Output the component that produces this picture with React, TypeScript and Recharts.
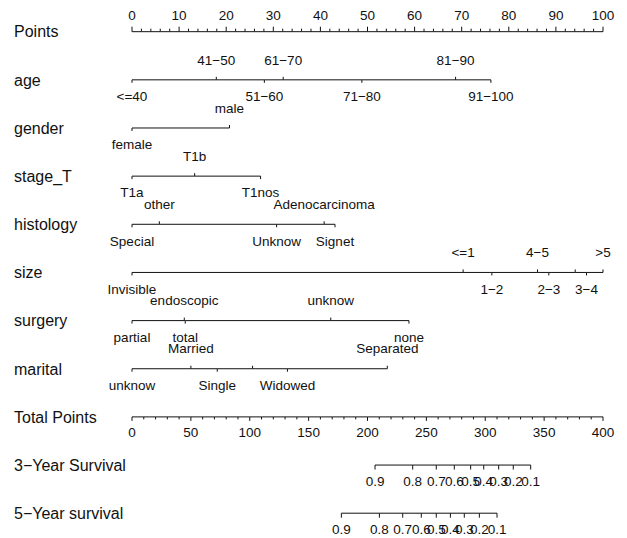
import React from "react";
import { ComposedChart, Scatter, XAxis, YAxis } from "recharts";

// row names, top to bottom
const rowLabels = [
  "Points",
  "age",
  "gender",
  "stage_T",
  "histology",
  "size",
  "surgery",
  "marital",
  "Total Points",
  "3\u2212Year Survival",
  "5\u2212Year survival",
];

// axis ticks
const pointsLabels = [0, 10, 20, 30, 40, 50, 60, 70, 80, 90, 100];
const pointsMinorStep = 2;
const totalLabels = [0, 50, 100, 150, 200, 250, 300, 350, 400];
const totalMinorStep = 10;

// variable levels and the points
const ageLevels = ["<=40", "41\u221250", "51\u221260", "61\u221270", "71\u221280", "81\u221290", "91\u2212100"];
const agePoints = [0, 17.9, 28.1, 32.1, 48.8, 68.7, 76.2];

const genderLevels = ["female", "male"];
const genderPoints = [0, 20.7];

const stageLevels = ["T1a", "T1b", "T1nos"];
const stagePoints = [0, 13.3, 27.3];

const histologyLevels = ["Special", "other", "Unknow", "Adenocarcinoma", "Signet"];
const histologyPoints = [0, 5.8, 30.7, 40.8, 43.1];

const sizeLevels = ["Invisible", "<=1", "1\u22122", "2\u22123", "3\u22124", "4\u22125", ">5", ""];
const sizePoints = [0, 70.3, 76.4, 88.5, 96.5, 86.1, 100, 94.1];

const surgeryLevels = ["partial", "endoscopic", "total", "unknow", "none"];
const surgeryPoints = [0, 11.1, 11.3, 42.2, 58.8];

const maritalLevels = ["unknow", "Married", "Single", "", "Widowed", "Separated"];
const maritalPoints = [0, 12.5, 18.1, 25.6, 33.0, 54.2];

// survival probabilities against total points
const survivalProbs = ["0.9", "0.8", "0.7", "0.6", "0.5", "0.4", "0.3", "0.2", "0.1"];
const survival3Total = [206.4, 238.4, 258.4, 273.7, 287.6, 298.7, 311.4, 323.8, 338.6];
const survival5Total = [177.8, 210.1, 229.9, 245.7, 258.4, 270.4, 282.2, 295.0, 310.0];

const FONT = "'Liberation Sans', Arial, sans-serif";
const INK = "#111";

type Mark = { x: number; y: number; label: string; len: number; off: number };

const byX = (a: Mark, b: Mark) => a.x - b.x;

function axisRow(row: number, labels: number[], max: number, step: number, dir: number, big: number, small: number, off: number): Mark[] {
  const marks: Mark[] = [];
  for (let v = 0; v <= max + 1e-9; v += step) {
    const isMajor = labels.includes(v);
    marks.push({ x: v, y: row, label: isMajor ? String(v) : "", len: dir * (isMajor ? big : small), off });
  }
  return marks;
}

function variableRow(row: number, levels: string[], points: number[]): Mark[] {
  return levels
    .map((label, i) => ({ label, x: points[i] }))
    .sort((a, b) => a.x - b.x)
    .map((d, i) => ({
      x: d.x,
      y: row,
      label: d.label,
      len: i % 2 === 0 ? 3 : -3,
      off: i % 2 === 0 ? 16.5 : -20,
    }));
}

function survivalRow(row: number, totals: number[]): Mark[] {
  return totals.map((t, i) => ({ x: t, y: row, label: survivalProbs[i], len: 4.5, off: 16 })).sort(byX);
}

const pointsRow = axisRow(0, pointsLabels, 100, pointsMinorStep, -1, 5, 3, -16.7);
const variableRows = [
  variableRow(1, ageLevels, agePoints),
  variableRow(2, genderLevels, genderPoints),
  variableRow(3, stageLevels, stagePoints),
  variableRow(4, histologyLevels, histologyPoints),
  variableRow(5, sizeLevels, sizePoints),
  variableRow(6, surgeryLevels, surgeryPoints),
  variableRow(7, maritalLevels, maritalPoints),
];
const totalRow = axisRow(8, totalLabels, 400, totalMinorStep, 1, 4, 2.5, 15);
const surv3Row = survivalRow(9, survival3Total);
const surv5Row = survivalRow(10, survival5Total);

const TickShape = (props: any) => {
  const { cx, cy, payload } = props;
  if (cx == null || cy == null) return null;
  return (
    <g>
      <line x1={cx} y1={cy} x2={cx} y2={cy + payload.len} stroke={INK} strokeWidth={1} />
      {payload.label ? (
        <text
          x={cx}
          y={cy + payload.off}
          dy="0.35em"
          textAnchor="middle"
          fontSize={13.5}
          fontFamily={FONT}
          fill={INK}
        >
          {payload.label}
        </text>
      ) : null}
    </g>
  );
};

const RowLabel = (props: any) => {
  const { y, payload } = props;
  return (
    <text x={14} y={y} dy="0.36em" fontSize={16} fontFamily={FONT} fill={INK} textAnchor="start">
      {rowLabels[payload.value]}
    </text>
  );
};

const lineStyle = { stroke: INK, strokeWidth: 1 };

export default function App() {
  return (
    <div style={{ position: "absolute", left: 0, top: 0, background: "#fff" }}>
      <ComposedChart width={627} height={538} margin={{ top: 0, right: 24, bottom: 0, left: 0 }}>
        <XAxis xAxisId="pts" type="number" dataKey="x" domain={[0, 100]} hide />
        <XAxis xAxisId="tot" type="number" dataKey="x" domain={[0, 400]} hide />
        <YAxis
          type="number"
          dataKey="y"
          domain={[-0.658, 10.515]}
          reversed
          width={132}
          ticks={rowLabels.map((_, i) => i)}
          interval={0}
          tick={<RowLabel />}
          axisLine={false}
          tickLine={false}
        />
        <Scatter
          xAxisId="pts"
          data={pointsRow}
          line={lineStyle}
          shape={<TickShape />}
          isAnimationActive={false}
        />
        {variableRows.map((d, i) => (
          <Scatter
            key={i}
            xAxisId="pts"
            data={d}
            line={lineStyle}
            shape={<TickShape />}
            isAnimationActive={false}
          />
        ))}
        <Scatter xAxisId="tot" data={totalRow} line={lineStyle} shape={<TickShape />} isAnimationActive={false} />
        <Scatter xAxisId="tot" data={surv3Row} line={lineStyle} shape={<TickShape />} isAnimationActive={false} />
        <Scatter xAxisId="tot" data={surv5Row} line={lineStyle} shape={<TickShape />} isAnimationActive={false} />
      </ComposedChart>
    </div>
  );
}
